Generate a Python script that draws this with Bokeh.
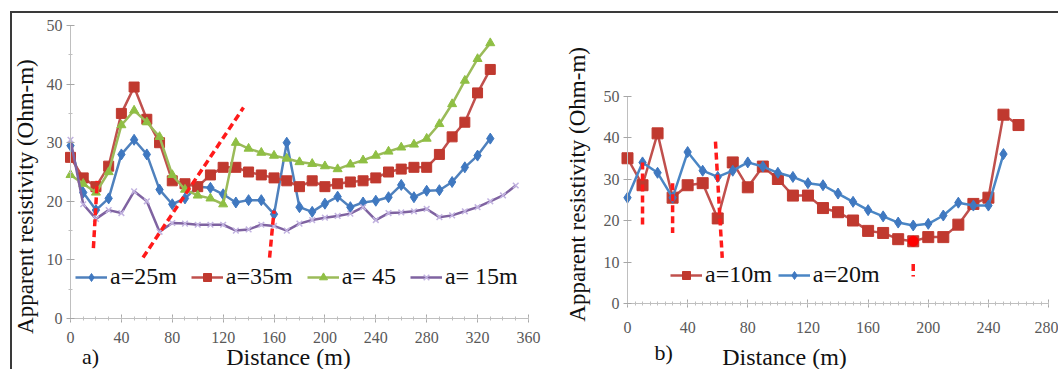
import math
from bokeh.plotting import figure
from bokeh.layouts import row
from bokeh.models import Legend, LegendItem, Label, FixedTicker, Range1d
from bokeh.embed import file_html
from bokeh.resources import INLINE

# ---------------- data: panel a ----------------
dist_a = [0, 10, 20, 30, 40, 50, 60, 70, 80, 90, 100, 110, 120, 130, 140, 150, 160,
          170, 180, 190, 200, 210, 220, 230, 240, 250, 260, 270, 280, 290, 300, 310, 320, 330]
res_a25 = [29.5, 21.5, 18.5, 20.5, 28, 30.5, 28, 22, 19.5, 20.5, 22.5, 22.3, 21.2, 19.8, 20.2, 20.2, 17.8,
           30, 19, 18.2, 19.6, 20.8, 19, 19.8, 20.1, 20.7, 22.8, 20.7, 21.8, 21.9, 23.3, 25.8, 27.8, 30.7]
res_a35 = [27.5, 24, 22.5, 26, 35, 39.5, 34, 30, 23.5, 23, 22.5, 24.5, 25.8, 25.8, 25, 24.5, 24,
           23.5, 22.5, 23.5, 22.5, 23, 23.3, 23.5, 24, 25, 25.5, 25.8, 25.8, 28, 31, 33.5, 38.5, 42.5]
res_a45 = [24.5, 23, 21.5, 25, 33, 35.5, 33.5, 31, 24.5, 22, 21, 20.5, 19.5, 30, 29, 28.3, 27.8,
           27.3, 26.7, 26.4, 26, 25.5, 26.3, 27, 27.8, 28.5, 29.2, 29.7, 30.7, 33.2, 36.6, 40.6, 44.3, 47]
dist_a15 = [0, 10, 20, 30, 40, 50, 60, 70, 80, 90, 100, 110, 120, 130, 140, 150, 160, 170,
            180, 190, 200, 210, 220, 230, 240, 250, 260, 270, 280, 290, 300, 310, 320, 330, 340, 350]
res_a15 = [30.5, 19.5, 17, 18.5, 18, 21.7, 20, 14.8, 16.3, 16.2, 16, 16, 16, 15, 15.2, 16, 15.8, 15,
           16.2, 16.8, 17.2, 17.5, 17.9, 19, 16.8, 18, 18.1, 18.3, 18.7, 17.3, 17.6, 18.3, 19, 20, 21, 22.7]

# ---------------- data: panel b ----------------
dist_b10 = [0, 10, 20, 30, 40, 50, 60, 70, 80, 90, 100, 110, 120, 130, 140, 150, 160, 170, 180,
            190, 200, 210, 220, 230, 240, 250, 260]
res_b10 = [35, 28.5, 41, 25.5, 28.5, 29, 20.5, 34, 28, 33, 30, 26, 26, 23, 22, 20, 17.5, 17, 15.5,
           15, 16, 16, 19, 24, 25.5, 45.5, 43]
dist_b20 = [0, 10, 20, 30, 40, 50, 60, 70, 80, 90, 100, 110, 120, 130, 140, 150, 160, 170, 180,
            190, 200, 210, 220, 230, 240, 250]
res_b20 = [25.5, 34, 31.5, 25.5, 36.5, 32, 30.5, 32, 34, 33, 31.5, 30.5, 29, 28.5, 26.5, 24.5, 22.5,
           21, 19.5, 18.8, 19.2, 21.2, 24.3, 23.6, 23.6, 36]

# red dashed interpretation marks
marks_a_x = [[18, 21], [57, 136], [156.5, 160]]
marks_a_y = [[12, 23.5], [10.4, 36], [10.4, 18.4]]
marks_b_x = [[10, 10], [30, 30], [58.5, 63], [190, 190]]
marks_b_y = [[34, 18.5], [29, 17], [39, 11], [9.5, 6.5]]
min_b_x = [190]
min_b_y = [15]

x_ticks_a = [0, 40, 80, 120, 160, 200, 240, 280, 320, 360]
x_ticks_b = [0, 40, 80, 120, 160, 200, 240, 280]
y_ticks = [0, 10, 20, 30, 40, 50]

Y_TITLE = "Apparent resistivity  (Ohm-m)"
X_TITLE = "Distance (m)"

SERIF = "Liberation Serif"
BLUE, RED, GREEN, PURPLE = "#4f81bd", "#c0504d", "#9bbb59", "#7f63a1"


def style_axes(p, xmax, xstand):
    for ax in (p.xaxis[0], p.yaxis[0]):
        ax.axis_line_color = "#bfbfbf"
        ax.major_tick_line_color = "#a6a6a6"
        ax.minor_tick_line_color = "#bfbfbf"
        ax.major_tick_in = 4
        ax.major_tick_out = 4
        ax.minor_tick_in = 2
        ax.minor_tick_out = 2
        ax.major_label_text_font = SERIF
        ax.major_label_text_font_size = "16px"
        ax.major_label_text_color = "#595959"
        ax.major_label_standoff = 4
    p.xaxis[0].fixed_location = 0
    p.xaxis[0].bounds = (0, xmax)
    p.xaxis[0].major_label_standoff = xstand
    p.yaxis[0].fixed_location = 0
    p.yaxis[0].bounds = (0, 50)
    p.xgrid.grid_line_color = None
    p.ygrid.grid_line_color = None
    p.outline_line_color = None


def text_label(p, x, y, txt, size, angle=0.0):
    p.add_layout(Label(x=x, y=y, text=txt, text_font=SERIF, text_font_size=size, angle=angle,
                       text_align="center", text_baseline="middle", text_color="#111111"))


# ---------------- panel a ----------------
pa = figure(width=541, height=356, output_backend="svg", toolbar_location=None,
            x_range=Range1d(-45.6, 379.7), y_range=Range1d(-8.7, 52.05),
            min_border_left=0, min_border_right=0, min_border_top=0, min_border_bottom=0)
pa.xaxis[0].ticker = FixedTicker(ticks=x_ticks_a, minor_ticks=list(range(0, 361, 10)))
pa.yaxis[0].ticker = FixedTicker(ticks=y_ticks, minor_ticks=[5, 15, 25, 35, 45])
style_axes(pa, 360, 9)

la25 = pa.line(dist_a, res_a25, line_color=BLUE, line_width=2.5)
sa25 = pa.scatter(dist_a, res_a25, marker="diamond", size=11, fill_color="#3f78c0", line_color="#3f78c0")
la35 = pa.line(dist_a, res_a35, line_color=RED, line_width=2.5)
sa35 = pa.scatter(dist_a, res_a35, marker="square", size=10, fill_color="#c0392f", line_color="#c0392f")
la45 = pa.line(dist_a, res_a45, line_color=GREEN, line_width=2.5)
sa45 = pa.scatter(dist_a, res_a45, marker="triangle", size=9, fill_color="#8fbf44", line_color="#8fbf44")
la15 = pa.line(dist_a15, res_a15, line_color=PURPLE, line_width=2.5)
sa15 = pa.scatter(dist_a15, res_a15, marker="x", size=8, line_color="#c2b3e0", line_width=1.5)

pa.multi_line(marks_a_x, marks_a_y, line_color="#ff1a1a", line_width=3.5, line_dash="7 4")

leg_a = Legend(items=[LegendItem(label="a=25m", renderers=[la25, sa25]),
                      LegendItem(label="a=35m", renderers=[la35, sa35]),
                      LegendItem(label="a= 45", renderers=[la45, sa45]),
                      LegendItem(label="a= 15m", renderers=[la15, sa15])],
               orientation="horizontal", location=(63, 79),
               label_text_font=SERIF, label_text_font_size="24px", label_text_color="#111111",
               glyph_width=32, glyph_height=20, label_standoff=3, spacing=14,
               padding=0, margin=0, border_line_color=None, background_fill_alpha=0)
pa.add_layout(leg_a)

text_label(pa, -35.4, 21.3, Y_TITLE, "23px", math.pi / 2)
text_label(pa, 171.4, -6.6, X_TITLE, "24px")
text_label(pa, 15.7, -6.4, "a)", "22px")

# ---------------- panel b ----------------
pb = figure(width=505, height=356, output_backend="svg", toolbar_location=None,
            x_range=Range1d(-49.2, 286.6), y_range=Range1d(-15.9, 69.88),
            min_border_left=0, min_border_right=0, min_border_top=0, min_border_bottom=0)
pb.xaxis[0].ticker = FixedTicker(ticks=x_ticks_b, minor_ticks=list(range(0, 281, 5)))
pb.yaxis[0].ticker = FixedTicker(ticks=y_ticks, minor_ticks=[])
style_axes(pb, 280, 14)

lb10 = pb.line(dist_b10, res_b10, line_color=RED, line_width=2.5)
sb10 = pb.scatter(dist_b10, res_b10, marker="square", size=11, fill_color="#c0392f", line_color="#c0392f")
lb20 = pb.line(dist_b20, res_b20, line_color="#4a86c5", line_width=2.5)
sb20 = pb.scatter(dist_b20, res_b20, marker="diamond", size=11, fill_color="#3f78c0", line_color="#3f78c0")

pb.multi_line(marks_b_x, marks_b_y, line_color="#ff1a1a", line_width=3.5, line_dash="7 4")
pb.scatter(min_b_x, min_b_y, marker="circle", size=10, fill_color="#ff0000", line_color="#ff0000")

leg_b = Legend(items=[LegendItem(label="a=10m", renderers=[lb10, sb10]),
                      LegendItem(label="a=20m", renderers=[lb20, sb20])],
               orientation="horizontal", location=(117, 81),
               label_text_font=SERIF, label_text_font_size="24px", label_text_color="#111111",
               glyph_width=32, glyph_height=20, label_standoff=3, spacing=6,
               padding=0, margin=0, border_line_color=None, background_fill_alpha=0)
pb.add_layout(leg_b)

text_label(pb, -33.2, 29.4, Y_TITLE, "23px", math.pi / 2)
text_label(pb, 104.4, -13.0, X_TITLE, "24px")
text_label(pb, 24, -11.8, "b)", "22px")

layout = row(pa, pb, styles={"margin": "11px 0px 0px 10px",
                             "border-top": "2px solid #3a3a3a", "border-left": "2px solid #3a3a3a"})

open("out.html", "w").write(file_html(layout, INLINE))
